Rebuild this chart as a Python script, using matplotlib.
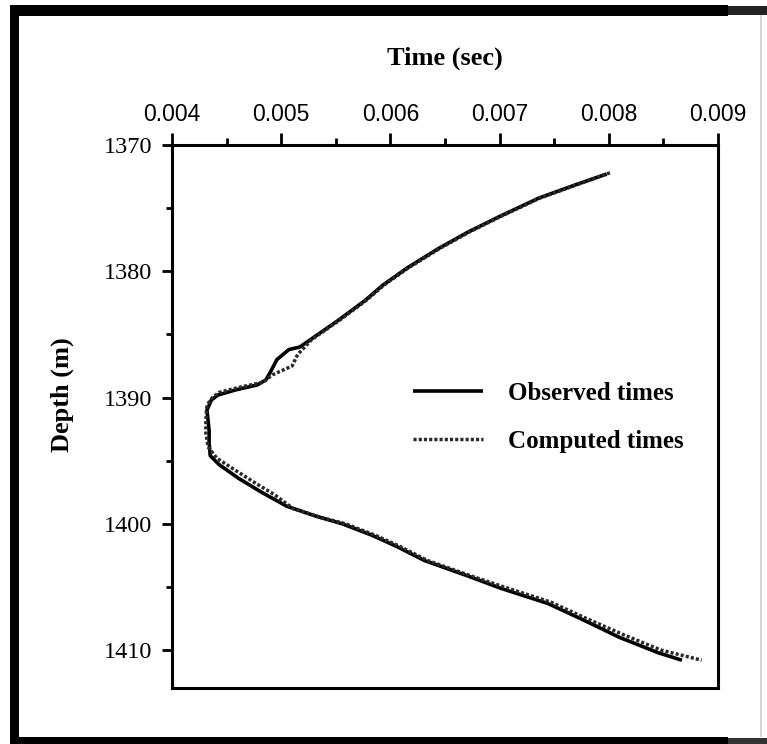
import matplotlib
matplotlib.use("Agg")
import matplotlib.pyplot as plt
from matplotlib.patches import Rectangle
from matplotlib.ticker import MultipleLocator, FormatStrFormatter

# Travel times (sec) against depth (m)
obs_depth = [1372.3, 1373.2, 1374.2, 1375.7, 1376.9, 1378.2, 1379.7, 1381.1,
             1382.3, 1383.9, 1385.4, 1386.0, 1386.2, 1387.0, 1388.0, 1388.6,
             1389.0, 1389.4, 1389.8, 1390.2, 1391.0, 1392.6, 1393.6, 1394.6,
             1395.3, 1396.4, 1397.5, 1398.6, 1399.4, 1400.0, 1400.9, 1401.8,
             1402.9, 1404.1, 1405.1, 1406.3, 1407.5, 1409.0, 1410.2, 1410.8]
obs_time = [0.00798, 0.00768, 0.00736, 0.00699, 0.00671, 0.00644, 0.00616, 0.00593,
            0.00577, 0.00552, 0.00527, 0.00517, 0.00507, 0.00496, 0.00490, 0.00486,
            0.00478, 0.00458, 0.00442, 0.00436, 0.00432, 0.00434, 0.00434, 0.00435,
            0.00443, 0.00461, 0.00482, 0.00505, 0.00532, 0.00556, 0.00583, 0.00606,
            0.00631, 0.00670, 0.00701, 0.00744, 0.00774, 0.00810, 0.00845, 0.00867]

calc_depth = [1372.2, 1373.2, 1374.2, 1375.7, 1376.9, 1378.2, 1379.7, 1381.1,
              1382.3, 1383.9, 1385.4, 1386.6, 1387.5, 1388.2, 1388.8, 1389.2,
              1389.6, 1390.0, 1390.6, 1391.8, 1392.8, 1393.9, 1394.8, 1395.7,
              1396.7, 1397.7, 1398.8, 1399.5, 1400.0, 1400.9, 1401.8, 1402.9,
              1404.1, 1405.0, 1406.2, 1407.4, 1408.8, 1410.0, 1410.8]
calc_time = [0.00801, 0.00769, 0.00737, 0.00700, 0.00672, 0.00645, 0.00617, 0.00594,
             0.00578, 0.00553, 0.00528, 0.00515, 0.00510, 0.00492, 0.00483, 0.00461,
             0.00443, 0.00437, 0.00432, 0.00431, 0.00431, 0.00433, 0.00441, 0.00457,
             0.00475, 0.00494, 0.00511, 0.00537, 0.00559, 0.00586, 0.00609, 0.00634,
             0.00673, 0.00704, 0.00747, 0.00777, 0.00814, 0.00848, 0.00885]

x_ticks = [0.004, 0.005, 0.006, 0.007, 0.008, 0.009]
y_ticks = [1370, 1380, 1390, 1400, 1410]

W, H = 767, 744
fig = plt.figure(figsize=(W / 100, H / 100), dpi=100)
fig.patch.set_facecolor("white")

def px(x, y):
    return x / W, 1 - y / H

# heavy border round the whole figure
for x0, y0, w, h, c in [(10, 5, 718, 11, "black"), (728, 6, 39, 9, "#222222"),
                        (10, 5, 9, 739, "black"), (10, 737, 718, 7, "black"),
                        (728, 738, 39, 6, "#333333"), (760, 15, 1.5, 722, "#d4d4d4")]:
    fx, fy = px(x0, y0 + h)
    fig.add_artist(Rectangle((fx, fy), w / W, h / H, transform=fig.transFigure,
                             facecolor=c, edgecolor="none"))

left, right, top, bottom = 172, 718, 145, 688
fl, fb = px(left, bottom)
ax = fig.add_axes([fl, fb, (right - left) / W, (bottom - top) / H])

ax.plot(obs_time, obs_depth, color="black", lw=2.6, solid_capstyle="butt",
        label="Observed times")
ax.plot(calc_time, calc_depth, color="#2a2a2a", lw=2.5,
        linestyle=(0, (0.9, 0.6)), label="Computed times")

ax.set_xlim(0.004, 0.009)
ax.set_ylim(1413.0, 1370)

serif = "Liberation Serif"
ax.xaxis.tick_top()
ax.xaxis.set_label_position("top")
ax.set_xticks(x_ticks)
ax.xaxis.set_minor_locator(MultipleLocator(0.0005))
ax.xaxis.set_major_formatter(FormatStrFormatter("%.3f"))
ax.set_yticks(y_ticks)
ax.yaxis.set_minor_locator(MultipleLocator(5))

ax.tick_params(axis="x", which="major", length=8.6, width=2, pad=5,
               labelsize=16.5, top=True, bottom=False)
ax.tick_params(axis="x", which="minor", length=5, width=2, top=True, bottom=False)
ax.tick_params(axis="y", which="major", length=7, width=2, pad=7, labelsize=17.5)
ax.tick_params(axis="y", which="minor", length=4, width=2)
for lab in ax.get_xticklabels():
    lab.set_family("Liberation Sans")
for lab in ax.get_yticklabels():
    lab.set_family(serif)

for sp in ax.spines.values():
    sp.set_linewidth(2.2)

ax.set_xlabel("Time (sec)", fontsize=19, fontweight="bold", family=serif, labelpad=28)
ax.set_ylabel("Depth (m)", fontsize=19, fontweight="bold", family=serif)
ax.yaxis.set_label_coords(-0.18, 0.54)

ax.legend(loc="upper left", bbox_to_anchor=(0.419, 0.587), frameon=False,
          prop={"family": serif, "weight": "bold", "size": 18},
          handlelength=2.8, handletextpad=1.0, labelspacing=1.0, borderpad=0)

fig.savefig("out.png", dpi=100)
